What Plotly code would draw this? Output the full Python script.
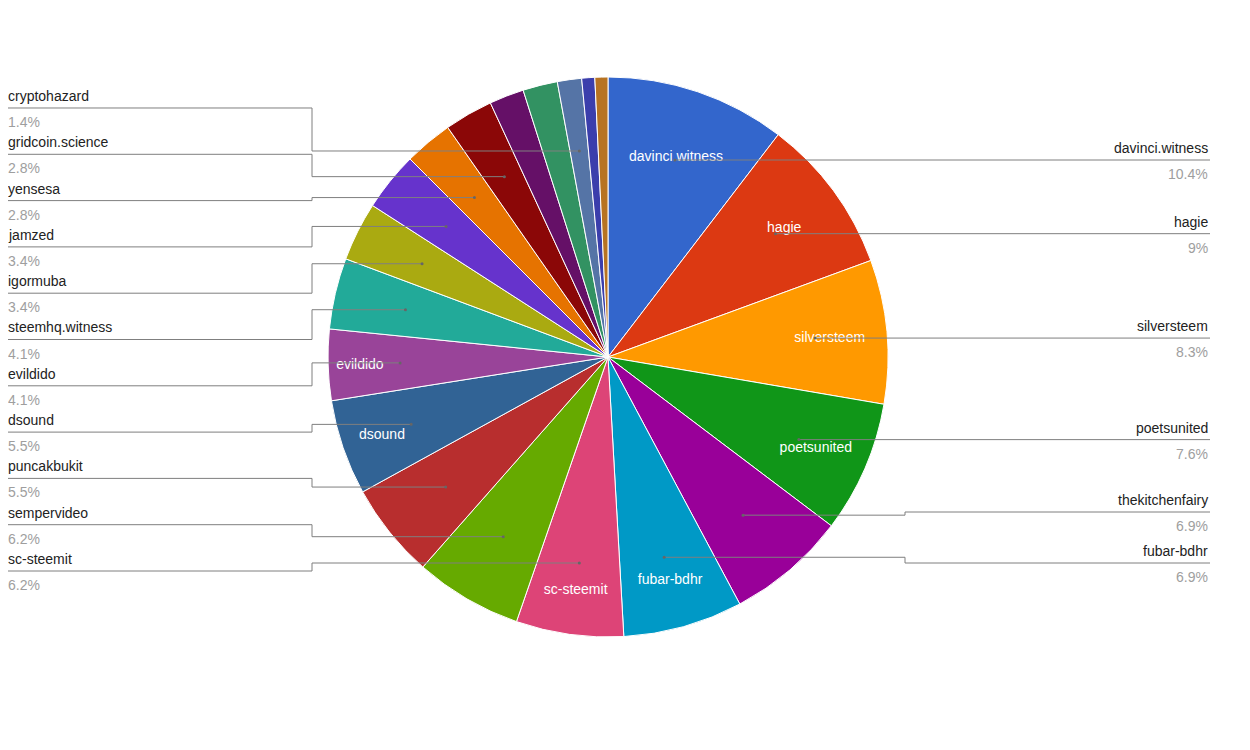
import math
import plotly.graph_objects as go

names = ["davinci.witness", "hagie", "silversteem", "poetsunited", "thekitchenfairy",
         "fubar-bdhr", "sc-steemit", "sempervideo", "puncakbukit", "dsound", "evildido",
         "steemhq.witness", "igormuba", "jamzed", "yensesa", "gridcoin.science",
         "other-a", "other-b", "cryptohazard", "other-c", "other-d"]
shares = [10.4, 9, 8.3, 7.6, 6.9, 6.9, 6.2, 6.2, 5.5, 5.5, 4.1, 4.1, 3.4, 3.4, 2.8, 2.8,
          2.0, 2.0, 1.4, 0.75, 0.75]
colors = ["#3366cc", "#dc3912", "#ff9900", "#109618", "#990099", "#0099c6", "#dd4477",
          "#66aa00", "#b82e2e", "#316395", "#994499", "#22aa99", "#aaaa11", "#6633cc",
          "#e67300", "#8b0707", "#651067", "#329262", "#5574a6", "#3b3eac", "#b77322"]
inside = ["davinci.witness", "hagie", "silversteem", "poetsunited", "fubar-bdhr",
          "sc-steemit", "dsound", "evildido"]
right_labels = ["davinci.witness", "hagie", "silversteem", "poetsunited",
                "thekitchenfairy", "fubar-bdhr"]
left_labels = ["cryptohazard", "gridcoin.science", "yensesa", "jamzed", "igormuba",
               "steemhq.witness", "evildido", "dsound", "puncakbukit", "sempervideo",
               "sc-steemit"]

W, H = 1250, 750
OFF = 8  # page body margin
cx, cy, R = 608, 357, 280

def px(x, y):
    return (x - OFF) / W, 1 - (y - OFF) / H

fig = go.Figure(go.Pie(
    labels=names, values=shares, sort=False, direction="clockwise", rotation=0,
    marker=dict(colors=colors, line=dict(color="white", width=1)),
    text=[n if n in inside else "" for n in names], textinfo="text",
    textposition="inside", insidetextorientation="horizontal",
    textfont=dict(color="white", size=14, family="Liberation Sans"),
    hoverinfo="skip", showlegend=False,
    domain=dict(x=[px(cx - R, 0)[0], px(cx + R, 0)[0]],
                y=[px(0, cy + R)[1], px(0, cy - R)[1]]),
))

total = sum(shares)
dots = {}
cum = 0
for n, v in zip(names, shares):
    th = 2 * math.pi * (cum + v / 2) / total
    dots[n] = (cx + 208 * math.sin(th), cy - 208 * math.cos(th))
    cum += v

shapes, annos = [], []

def path(pts):
    s = ""
    for i, (x, y) in enumerate(pts):
        a, b = px(x, y)
        s += ("M" if i == 0 else " L") + f"{a:.5f},{b:.5f}"
    return s

def label(x, ly, n, anchor):
    pct = shares[names.index(n)]
    a, _ = px(x, 0)
    annos.append(dict(x=a, y=px(0, ly - 12)[1], xref="paper", yref="paper", text=n,
                      showarrow=False, xanchor=anchor, yanchor="middle",
                      font=dict(size=14, color="#222", family="Liberation Sans")))
    annos.append(dict(x=a, y=px(0, ly + 14)[1], xref="paper", yref="paper",
                      text=f"{pct:g}%", showarrow=False, xanchor=anchor, yanchor="middle",
                      font=dict(size=14, color="#9e9e9e", family="Liberation Sans")))

right_y = {"thekitchenfairy": 512, "fubar-bdhr": 563}
for n in right_labels:
    dx, dy = dots[n]
    ly = right_y.get(n, dy)
    pts = [(dx, dy), (905, dy), (905, ly), (1210, ly)] if n in right_y else [(dx, dy), (1210, dy)]
    shapes.append(dict(type="path", path=path(pts), xref="paper", yref="paper",
                       line=dict(color="#7f7f7f", width=1)))
    label(1210, ly, n, "right")

for i, n in enumerate(left_labels):
    dx, dy = dots[n]
    ly = 108 + i * 46.3
    pts = [(OFF, ly), (312, ly), (312, dy), (dx, dy)]
    shapes.append(dict(type="path", path=path(pts), xref="paper", yref="paper",
                       line=dict(color="#7f7f7f", width=1)))
    label(6, ly, n, "left")

for n in right_labels + left_labels:
    dx, dy = dots[n]
    a, b = px(dx, dy)
    shapes.append(dict(type="circle", xref="paper", yref="paper",
                       x0=a - 1.5 / W, x1=a + 1.5 / W, y0=b - 1.5 / H, y1=b + 1.5 / H,
                       fillcolor="#666", line=dict(width=0)))

fig.update_layout(width=W, height=H, margin=dict(l=0, r=0, t=0, b=0),
                  paper_bgcolor="white", shapes=shapes, annotations=annos)
fig.write_html("out.html")
